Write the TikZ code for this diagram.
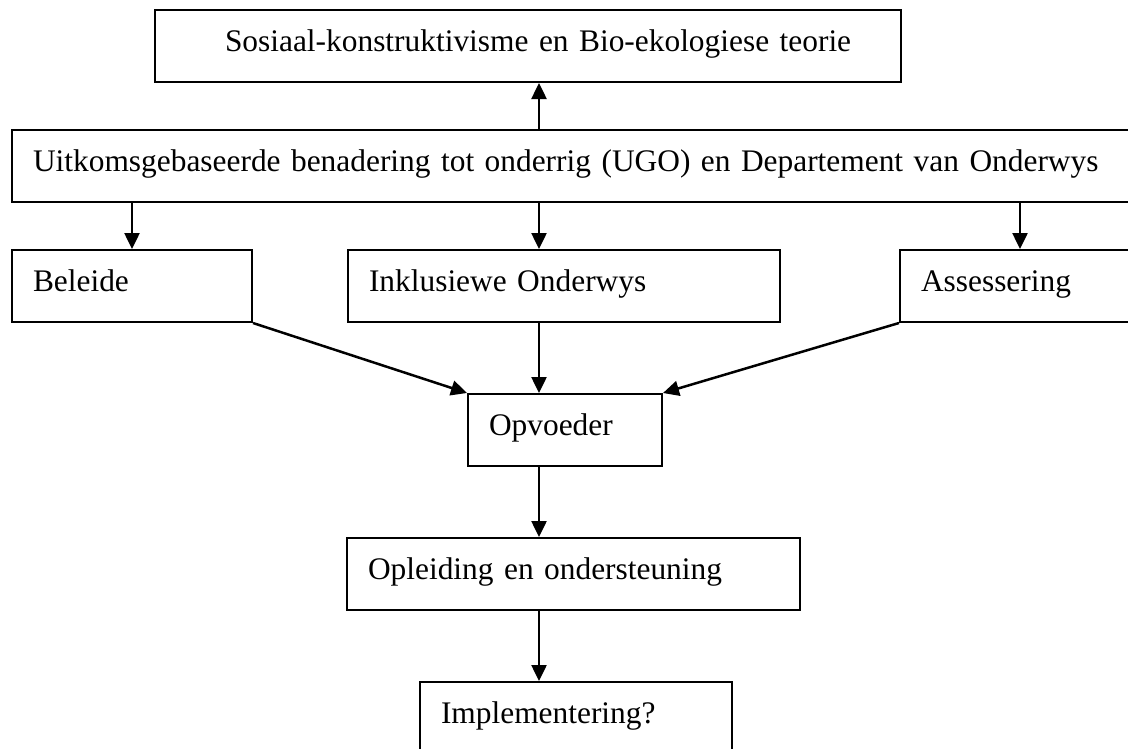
\documentclass[tikz,border=0pt]{standalone}
\usepackage{fontspec}
\setmainfont{Liberation Serif}
\usetikzlibrary{arrows.meta}
\tikzset{
  kas/.style={draw, line width=2pt, anchor=north west, inner xsep=21pt, inner ysep=0pt,
    text height=41pt, text depth=31pt, align=left, font=\fontsize{31.4pt}{36pt}\selectfont},
  pyl/.style={-{Triangle[length=16pt,width=15pt]}, line width=2.5pt}
}
\begin{document}
\begin{tikzpicture}[x=1pt,y=-1pt]
\useasboundingbox (0,0) rectangle (1128,748);
\clip (0,0) rectangle (1128,748);

\node (teorie) at (154,9) [kas, text width=704pt] {\hspace*{49pt}Sosiaal-konstruktivisme en Bio-ekologiese teorie};
\node (ugo) at (11,129) [kas, text width=1098pt] {Uitkomsgebaseerde benadering tot onderrig (UGO) en Departement van Onderwys};

\node (beleide) at (11,249) [kas, text width=198pt] {Beleide};
\node (inklusief) at (347,249) [kas, text width=390pt] {Inklusiewe Onderwys};
\node (assessering) at (899,249) [kas, text width=198pt] {Assessering};

\node (opvoeder) at (467,393) [kas, text width=152pt] {Opvoeder};
\node (opleiding) at (346,537) [kas, text width=411pt] {Opleiding en ondersteuning};
\node (implementering) at (419,681) [kas, text width=270pt] {Implementering?};

\coordinate (spine) at (539,0);

\draw[pyl] (ugo.north -| spine) -- (teorie.south -| spine);
\foreach \n in {beleide,assessering}
    \draw[pyl] (ugo.south -| \n.north) -- (\n.north);
\draw[pyl] (ugo.south -| spine) -- (inklusief.north -| spine);

\draw[pyl] (beleide.south east) -- (opvoeder.north west);
\draw[pyl] (assessering.south west) -- (opvoeder.north east);
\draw[pyl] (inklusief.south -| spine) -- (opvoeder.north -| spine);

%\draw[pyl] (opvoeder.south) -- (opleiding.north);
\draw[pyl] (opvoeder.south -| spine) -- (opleiding.north -| spine);
\draw[pyl] (opleiding.south -| spine) -- (implementering.north -| spine);

\end{tikzpicture}
\end{document}
